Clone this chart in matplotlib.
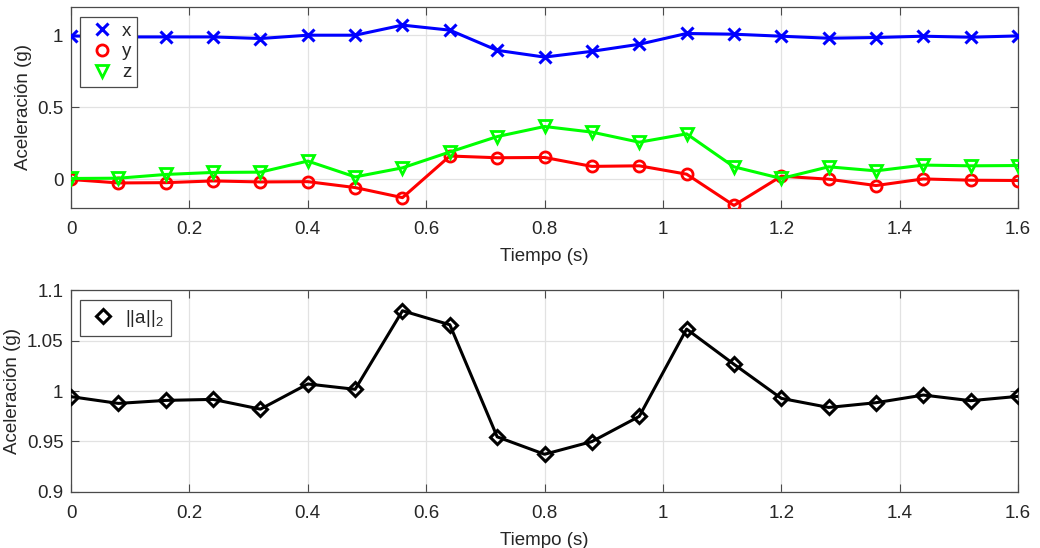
import matplotlib
matplotlib.use("Agg")
import matplotlib.pyplot as plt
from matplotlib.lines import Line2D
import numpy as np

t = [0.00, 0.08, 0.16, 0.24, 0.32, 0.40, 0.48, 0.56, 0.64, 0.72, 0.80,
     0.88, 0.96, 1.04, 1.12, 1.20, 1.28, 1.36, 1.44, 1.52, 1.60]
ax_x = [0.997, 0.99, 0.990, 0.990, 0.979, 1.002, 1.002, 1.072, 1.037, 0.897, 0.850,
        0.890, 0.939, 1.014, 1.009, 0.995, 0.981, 0.986, 0.995, 0.988, 0.997]
ax_y = [0.000, -0.024, -0.022, -0.010, -0.017, -0.015, -0.056, -0.126, 0.163, 0.151, 0.153,
        0.091, 0.095, 0.037, -0.180, 0.023, 0.002, -0.042, 0.004, -0.005, -0.007]
ax_z = [0.007, 0.009, 0.035, 0.049, 0.051, 0.128, 0.018, 0.081, 0.191, 0.298, 0.368,
        0.329, 0.259, 0.317, 0.088, 0.007, 0.088, 0.060, 0.100, 0.095, 0.097]
norm = [0.9944, 0.9877, 0.9907, 0.9917, 0.9820, 1.0070, 1.0017, 1.0797, 1.0658, 0.9545, 0.9372,
        0.9498, 0.9748, 1.0615, 1.0266, 0.9927, 0.9837, 0.9884, 0.9960, 0.9904, 0.9947]

xticks = [0, 0.2, 0.4, 0.6, 0.8, 1.0, 1.2, 1.4, 1.6]
xticklabels = ["0", "0.2", "0.4", "0.6", "0.8", "1", "1.2", "1.4", "1.6"]
yticks1 = [0, 0.5, 1]
yticklabels1 = ["0", "0.5", "1"]
yticks2 = [0.9, 0.95, 1.0, 1.05, 1.1]
yticklabels2 = ["0.9", "0.95", "1", "1.05", "1.1"]

plt.rcParams['font.family'] = ['Liberation Sans', 'DejaVu Sans']
plt.rcParams['mathtext.fontset'] = 'custom'
plt.rcParams['mathtext.rm'] = 'Liberation Sans'
FS = 13.5
AXC = '#262626'
SPC = '#4a4a4a'

fig = plt.figure(figsize=(10.4, 5.48), dpi=100)
ax1 = fig.add_axes([0.0683, 0.6199, 0.9106, 0.3679])
ax2 = fig.add_axes([0.0683, 0.1027, 0.9106, 0.3675])

def style(ax):
    ax.set_xlim(0, 1.6)
    ax.set_xticks(xticks)
    ax.set_xticklabels(xticklabels)
    ax.grid(True, color='#e2e2e2', linewidth=0.9)
    ax.set_axisbelow(True)
    ax.tick_params(direction='in', length=6, width=0.8, color=SPC,
                   labelcolor=AXC, labelsize=FS, top=True, right=True)
    ax.tick_params(axis='x', pad=9.5)
    ax.tick_params(axis='y', pad=5.5)
    for s in ax.spines.values():
        s.set_color(SPC)
        s.set_linewidth(0.9)
    ax.set_xlabel('Tiempo (s)', fontsize=FS, color=AXC, labelpad=7)
    ax.set_ylabel('Aceleración (g)', fontsize=FS, color=AXC, labelpad=4)

lw = 2.2
ax1.plot(t, ax_x, color='#0000ff', lw=lw, marker='x', ms=8, mew=2.2, zorder=3)
ax1.plot(t, ax_y, color='#ff0000', lw=lw, marker='o', ms=8, mew=2.0, mfc='none', zorder=3)
ax1.plot(t, ax_z, color='#00ff00', lw=lw, marker='v', ms=8, mew=2.0, mfc='none', zorder=4)
style(ax1)
ax1.set_ylim(-0.2, 1.2)
ax1.set_yticks(yticks1)
ax1.set_yticklabels(yticklabels1)

h1 = [Line2D([], [], color='#0000ff', ls='none', marker='x', ms=8, mew=2.2),
      Line2D([], [], color='#ff0000', ls='none', marker='o', ms=8, mew=2.0, mfc='none'),
      Line2D([], [], color='#00ff00', ls='none', marker='v', ms=8, mew=2.0, mfc='none')]
leg1 = ax1.legend(h1, ['x', 'y', 'z'], loc='upper left', bbox_to_anchor=(0.0095, 0.95),
                  fontsize=FS, frameon=True, fancybox=False, edgecolor=SPC, framealpha=1,
                  handlelength=1.7, handletextpad=0.25, borderpad=0.3, labelspacing=0.2,
                  borderaxespad=0)
leg1.get_frame().set_linewidth(0.9)
for tx in leg1.get_texts():
    tx.set_color(AXC)

ax2.plot(t, norm, color='#000000', lw=lw, marker='D', ms=7, mew=2.2, mfc='none', zorder=3)
style(ax2)
ax2.set_ylim(0.9, 1.1)
ax2.set_yticks(yticks2)
ax2.set_yticklabels(yticklabels2)
h2 = [Line2D([], [], color='#000000', ls='none', marker='D', ms=7, mew=2.2, mfc='none')]
leg2 = ax2.legend(h2, [r'$\mathregular{||a||_2}$'], loc='upper left', bbox_to_anchor=(0.0095, 0.95),
                  fontsize=FS, frameon=True, fancybox=False, edgecolor=SPC, framealpha=1,
                  handlelength=1.7, handletextpad=0.3, borderpad=0.4, borderaxespad=0)
leg2.get_frame().set_linewidth(0.9)
for tx in leg2.get_texts():
    tx.set_color(AXC)

fig.savefig('out.png', dpi=100, facecolor='white')
